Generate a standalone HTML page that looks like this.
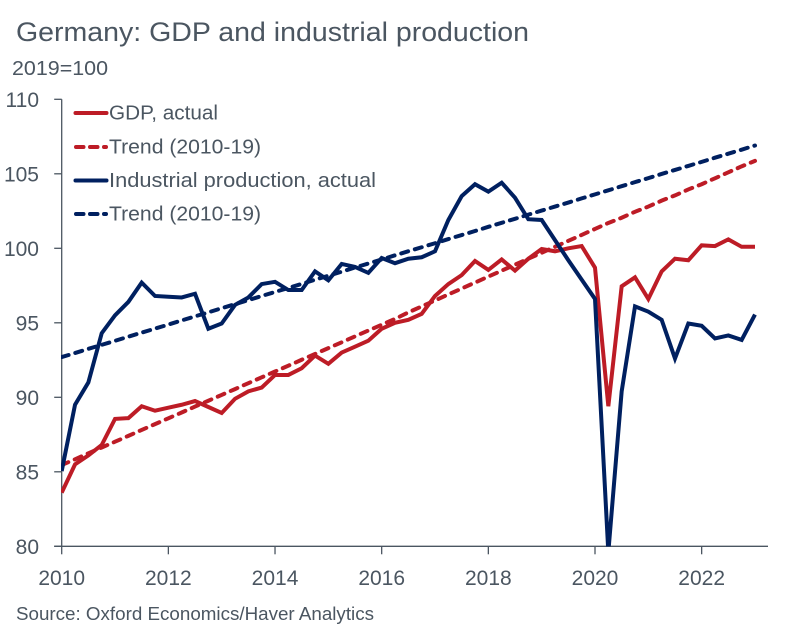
<!DOCTYPE html>
<html lang="en">
<head>
<meta charset="utf-8">
<title>Germany: GDP and industrial production</title>
<style>
html,body{margin:0;padding:0;background:#fff;}
svg{display:block;}
text{font-family:"Liberation Sans",Arial,sans-serif;fill:#4b5661;}
</style>
</head>
<body>
<svg id="chart" width="798" height="637" viewBox="0 0 798 637" xmlns="http://www.w3.org/2000/svg">
  <defs>
    <clipPath id="plot-clip"><rect x="61" y="90" width="720" height="456.5"></rect></clipPath>
  </defs>
  <text x="16" y="41" font-size="27" textLength="513" lengthAdjust="spacingAndGlyphs">Germany: GDP and industrial production</text>
  <text x="12" y="75" font-size="20" textLength="96" lengthAdjust="spacingAndGlyphs">2019=100</text>
  <g id="axes"></g>
  <g id="series" clip-path="url(#plot-clip)"></g>
  <g>
    <g>
      <line x1="75.5" y1="113" x2="106.5" y2="113" stroke="#bd1c26" stroke-width="4" stroke-linecap="round"></line>
      <text x="109" y="119.5" font-size="20" textLength="109" lengthAdjust="spacingAndGlyphs">GDP, actual</text>
    </g>
    <g>
      <line x1="76" y1="147" x2="106" y2="147" stroke="#bd1c26" stroke-width="4" stroke-linecap="round" stroke-dasharray="7.5 6.5"></line>
      <text x="109" y="153.5" font-size="20" textLength="152" lengthAdjust="spacingAndGlyphs">Trend (2010-19)</text>
    </g>
    <g>
      <line x1="75.5" y1="180.5" x2="106.5" y2="180.5" stroke="#002060" stroke-width="4" stroke-linecap="round"></line>
      <text x="109" y="187" font-size="20" textLength="267" lengthAdjust="spacingAndGlyphs">Industrial production, actual</text>
    </g>
    <g>
      <line x1="76" y1="214" x2="106" y2="214" stroke="#002060" stroke-width="4" stroke-linecap="round" stroke-dasharray="7.5 6.5"></line>
      <text x="109" y="220.5" font-size="20" textLength="152" lengthAdjust="spacingAndGlyphs">Trend (2010-19)</text>
    </g>
  </g>
  <text x="16" y="620" font-size="18" textLength="358" lengthAdjust="spacingAndGlyphs">Source: Oxford Economics/Haver Analytics</text>
</svg>
<script>
const startYear = 2010;
const pointsPerYear = 4;
const yTicks = [80, 85, 90, 95, 100, 105, 110];
const xTicks = [2010, 2012, 2014, 2016, 2018, 2020, 2022];

const gdpActual = [83.6, 85.5, 86.1, 86.8, 88.55, 88.6, 89.4, 89.1, 89.3, 89.5, 89.75, 89.35, 88.95, 89.9, 90.4, 90.65, 91.5, 91.5, 91.95, 92.8, 92.25, 93.0, 93.4, 93.8, 94.6, 95.0, 95.2, 95.6, 96.8, 97.6, 98.2, 99.15, 98.55, 99.25, 98.5, 99.3, 99.95, 99.8, 100.0, 100.15, 98.7, 89.4, 97.45, 98.05, 96.6, 98.45, 99.3, 99.2, 100.2, 100.15, 100.6, 100.1, 100.1];
const gdpTrend = [85.45, 85.84, 86.24, 86.63, 87.02, 87.41, 87.81, 88.2, 88.59, 88.98, 89.38, 89.77, 90.16, 90.55, 90.95, 91.34, 91.73, 92.12, 92.52, 92.91, 93.3, 93.69, 94.09, 94.48, 94.87, 95.26, 95.7, 96.1, 96.5, 96.9, 97.3, 97.7, 98.1, 98.5, 98.9, 99.3, 99.7, 100.1, 100.5, 100.9, 101.3, 101.7, 102.05, 102.45, 102.8, 103.2, 103.55, 103.95, 104.3, 104.7, 105.1, 105.5, 105.87];
const ipActual = [85.05, 89.5, 91.0, 94.3, 95.5, 96.4, 97.7, 96.8, 96.75, 96.7, 96.95, 94.6, 94.95, 96.2, 96.7, 97.6, 97.75, 97.2, 97.2, 98.45, 97.85, 98.95, 98.75, 98.35, 99.35, 99.0, 99.3, 99.4, 99.8, 101.9, 103.5, 104.3, 103.8, 104.4, 103.4, 101.95, 101.9, 100.55, 99.2, 97.9, 96.6, 79.6, 90.4, 96.1, 95.75, 95.2, 92.6, 94.95, 94.8, 93.95, 94.15, 93.85, 95.55];
const ipTrend = [92.7, 92.97, 93.25, 93.52, 93.79, 94.07, 94.34, 94.61, 94.88, 95.16, 95.43, 95.7, 95.98, 96.25, 96.52, 96.8, 97.07, 97.34, 97.61, 97.89, 98.16, 98.43, 98.71, 98.98, 99.25, 99.53, 99.8, 100.07, 100.34, 100.62, 100.89, 101.16, 101.44, 101.71, 101.98, 102.26, 102.53, 102.8, 103.07, 103.35, 103.62, 103.89, 104.17, 104.44, 104.71, 104.99, 105.26, 105.53, 105.8, 106.08, 106.35, 106.62, 106.9];

const NS = 'http://www.w3.org/2000/svg';
const axisColor = '#4b5661';
const plotLeft = 61.7, pxPerYear = 53.33, axisRight = 768;
const plotBottom = 546.3, pxPerUnit = 14.9, yMin = 80;

function xOfYear(year) { return plotLeft + (year - startYear) * pxPerYear; }
function xOfIndex(i) { return xOfYear(startYear + i / pointsPerYear); }
function yOfValue(v) { return plotBottom - (v - yMin) * pxPerUnit; }

function make(tag, attrs, parent) {
  const el = document.createElementNS(NS, tag);
  for (const k in attrs) el.setAttribute(k, attrs[k]);
  parent.appendChild(el);
  return el;
}

const axes = document.getElementById('axes');
const seriesGroup = document.getElementById('series');

const yAxisLine = make('line', {x1: plotLeft, x2: plotLeft, y1: yOfValue(110), y2: plotBottom, stroke: axisColor, 'stroke-width': 1.3}, axes);



const xAxisLine = make('line', {x1: plotLeft - 7.5, x2: axisRight, y1: plotBottom, y2: plotBottom, stroke: axisColor, 'stroke-width': 1.3}, axes);



yTicks.forEach(function (v) {
  const y = yOfValue(v);
  const tick = make('line', {x1: plotLeft - 7.5, x2: plotLeft, y1: y, y2: y, stroke: axisColor, 'stroke-width': 1.3}, axes);
  
  
  const label = make('text', {x: 39, y: y + 7.5, 'font-size': 21, 'text-anchor': 'end'}, axes);
  label.textContent = String(v);
  
  
});

xTicks.forEach(function (yr) {
  const x = xOfYear(yr);
  const tick = make('line', {x1: x, x2: x, y1: plotBottom, y2: plotBottom + 8, stroke: axisColor, 'stroke-width': 1.3}, axes);
  
  
  const label = make('text', {x: x, y: 585, 'font-size': 21, 'text-anchor': 'middle'}, axes);
  label.textContent = String(yr);
  
  
});

function pathFor(values) {
  return values.map(function (v, i) {
    return (i ? 'L' : 'M') + xOfIndex(i).toFixed(2) + ' ' + yOfValue(v).toFixed(2);
  }).join(' ');
}

function drawSeries(values, color, dashed) {
  const attrs = {d: pathFor(values), fill: 'none', stroke: color, 'stroke-width': 4, 'stroke-linejoin': 'miter', 'stroke-miterlimit': 4};
  if (dashed) {
    attrs['stroke-dasharray'] = '7.2 7';
    attrs['stroke-linecap'] = 'round';
  }
  return make('path', attrs, seriesGroup);
}

const gdpLine = drawSeries(gdpActual, '#bd1c26', false);



const gdpTrendLine = drawSeries(gdpTrend, '#bd1c26', true);



const ipLine = drawSeries(ipActual, '#002060', false);



const ipTrendLine = drawSeries(ipTrend, '#002060', true);


</script>
</body>
</html>
